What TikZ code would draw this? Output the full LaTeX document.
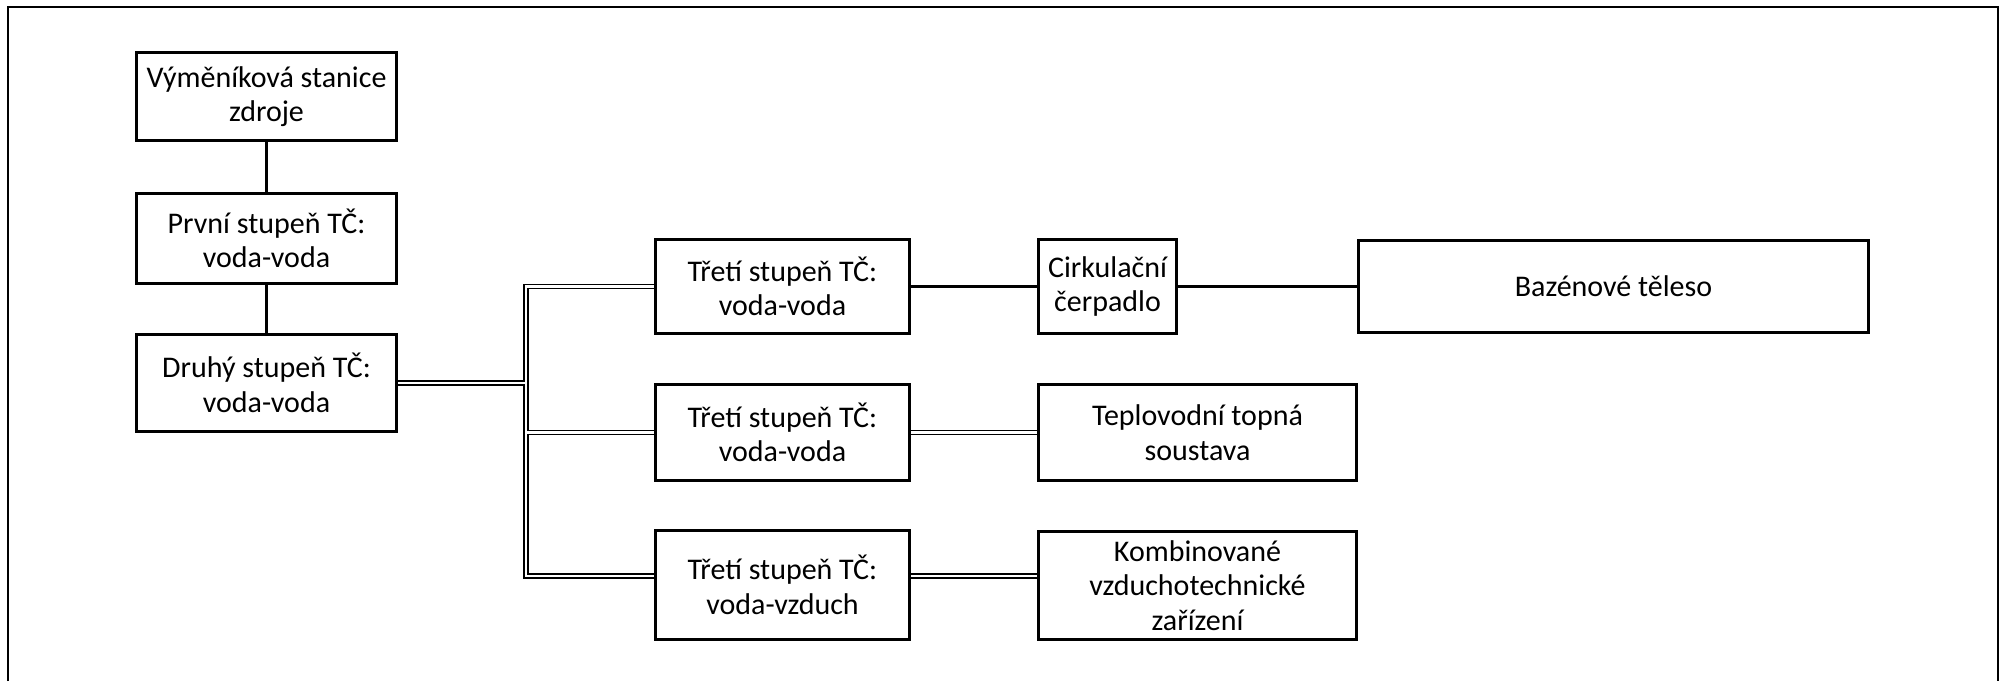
\documentclass[tikz,border=0pt]{standalone}
\usepackage{fontspec}
\setmainfont{Carlito}
\usetikzlibrary{backgrounds}
\begin{document}
\begin{tikzpicture}[x=0.5pt,y=-0.5pt,
  box/.style={draw,line width=1.9pt,align=center,inner sep=1pt,
    font=\fontsize{15pt}{17.3pt}\selectfont},
  single/.style={line width=1.8pt},
  dbl/.style={line width=0.8pt,double,double distance=1.3pt},
  frame/.style={line width=0.9pt}]
\useasboundingbox (0,0) rectangle (2006,681);
\draw[frame] (8,681) -- (8,7) -- (1998,7) -- (1998,681);

\node[box,minimum width=130pt,minimum height=44pt] (b1) at (266.5,96.5) {Výměníková stanice\\zdroje};
\node[box,minimum width=130pt,minimum height=45pt] (b2) at (266.5,238.5) {První stupeň TČ:\\voda-voda};
\node[box,minimum width=130pt,minimum height=48.5pt] (b3) at (266.5,383) {Druhý stupeň TČ:\\voda-voda};

\node[box,minimum width=127pt,minimum height=47pt] (t1) at (782.5,286.5) {Třetí stupeň TČ:\\voda-voda};
\node[box,minimum width=127pt,minimum height=48pt] (t2) at (782.5,432.5) {Třetí stupeň TČ:\\voda-voda};
\node[box,minimum width=127pt,minimum height=54.5pt] (t3) at (782.5,585) {Třetí stupeň TČ:\\voda-vzduch};

\node[box,minimum width=69pt,minimum height=47pt] (c) at (1107.5,286.5) {Cirkulační\\čerpadlo};
\node[box,minimum width=255pt,minimum height=46pt] (baz) at (1613.5,286.5) {Bazénové těleso};
\node[box,minimum width=159pt,minimum height=48pt] (tep) at (1197.5,432.5) {Teplovodní topná\\soustava};
\node[box,minimum width=159pt,minimum height=54pt] (kom) at (1197.5,585.5) {Kombinované\\vzduchotechnické\\zařízení};

\coordinate (j) at (526,383);
\coordinate (jb) at (526,576);

\begin{scope}[on background layer]
\draw[single] (b1) -- (b2);
\draw[single] (b2) -- (b3);
\draw[single] (t1) -- (c);
\draw[single] (c) -- (baz);
\draw[dbl] (t1.west) -- (j |- t1.west) -- (jb) -- (jb -| t3.west)
  (b3.east |- j) -- (j)
  (j |- t2.west) -- (t2.west);
\draw[dbl] (t2) -- (tep);
\draw[dbl] (t3.east |- jb) -- (jb -| kom.west);
\end{scope}
\end{tikzpicture}
\end{document}
